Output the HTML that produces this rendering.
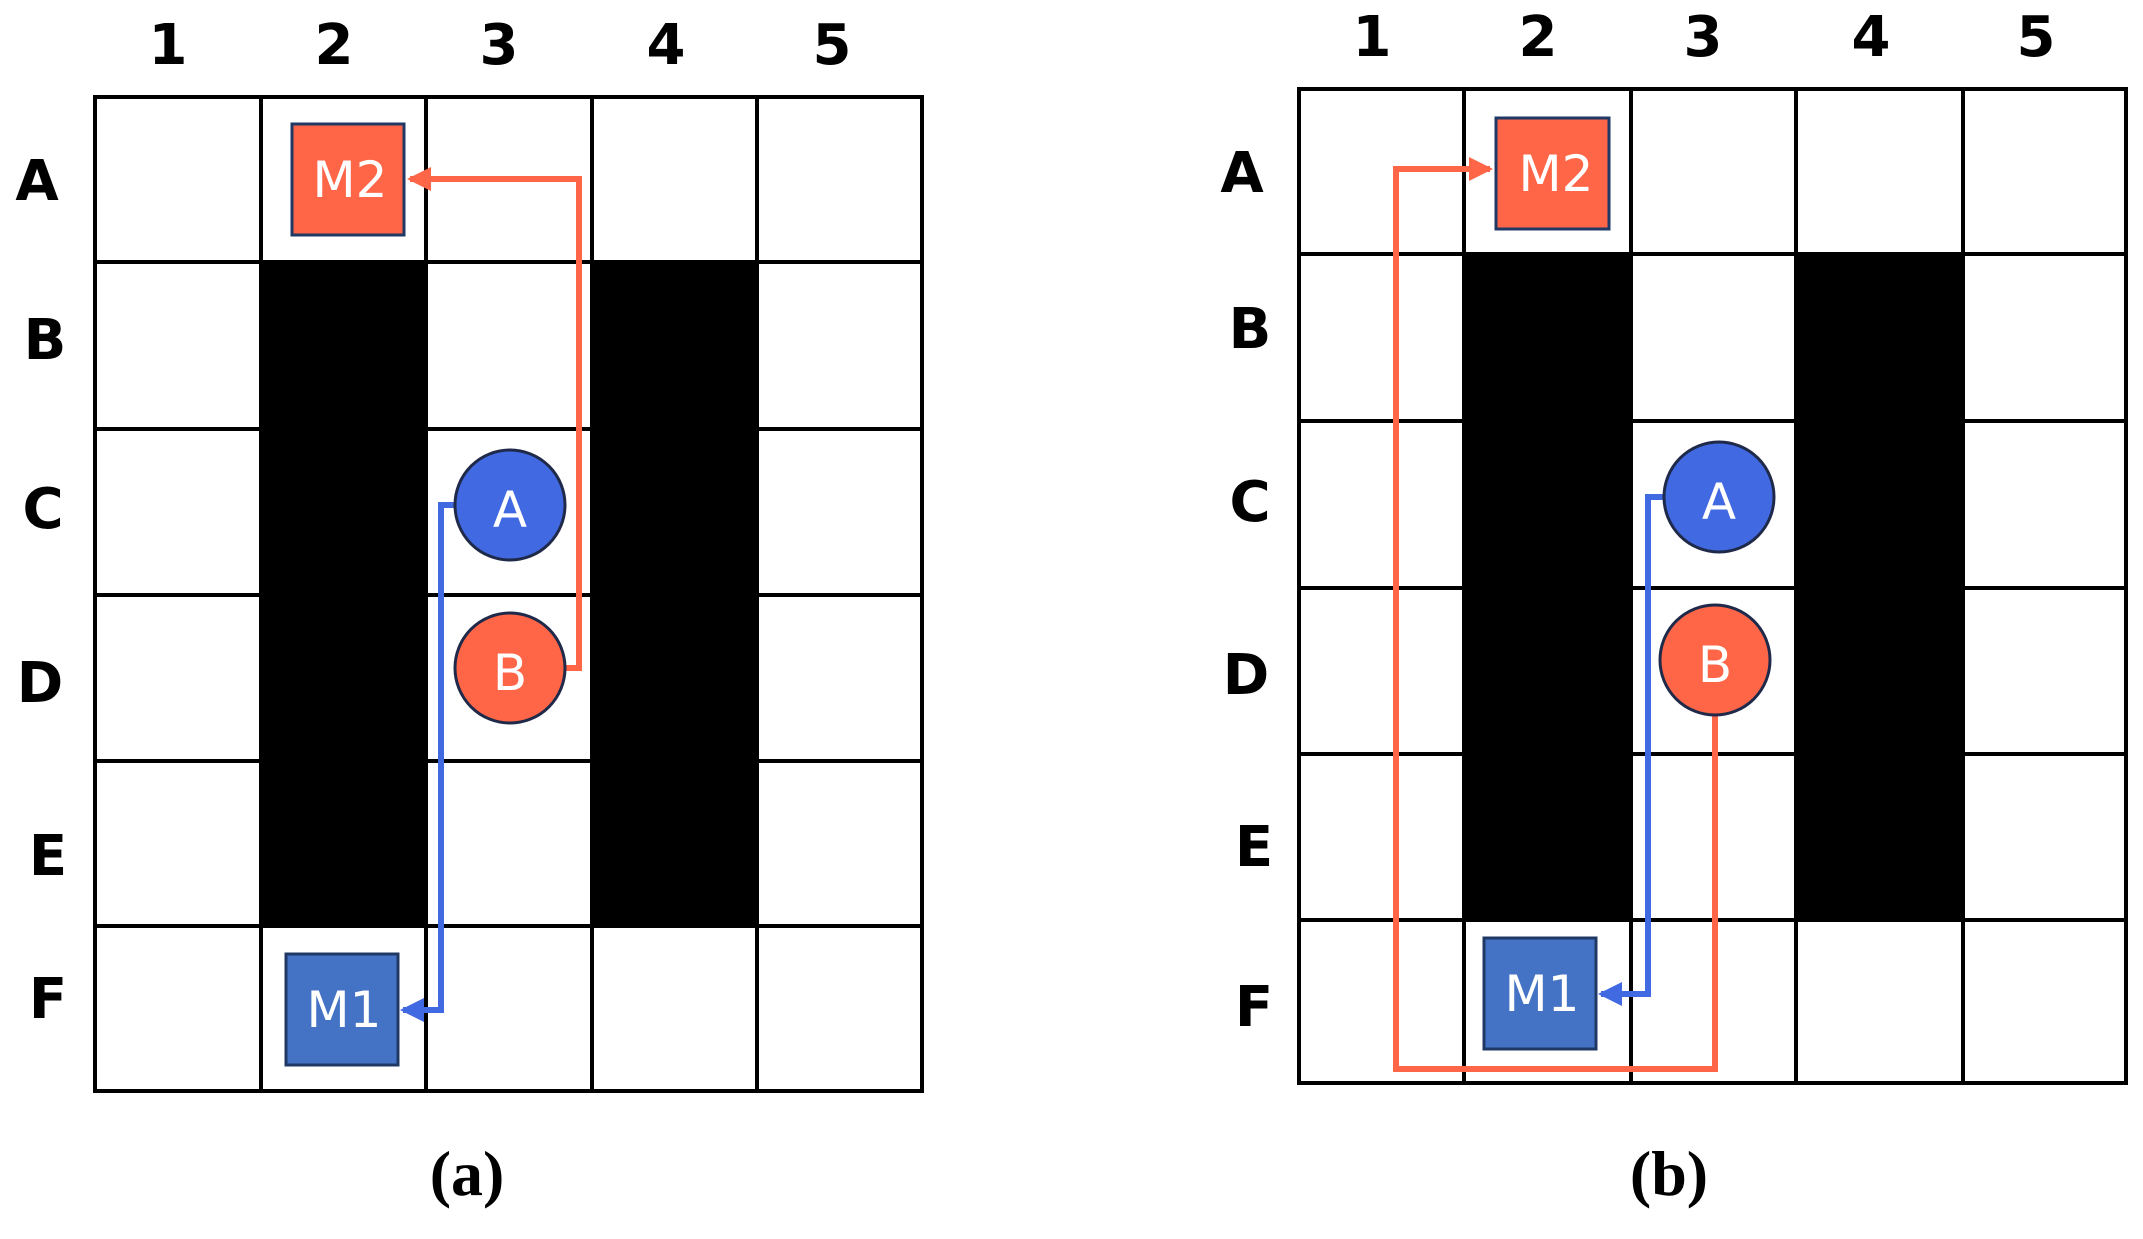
<!DOCTYPE html>
<html><head><meta charset="utf-8"><style>
html,body{margin:0;padding:0;background:#fff;width:2143px;height:1239px;overflow:hidden}
svg{display:block}
.lab{font-family:"DejaVu Sans","Liberation Sans",sans-serif;font-weight:bold;font-size:56px;fill:#000}
.nd{font-family:"DejaVu Sans","Liberation Sans",sans-serif;font-size:50px;fill:#fff}
.cap{font-family:"Liberation Serif",serif;font-weight:bold;font-size:64px;fill:#000}
</style></head><body>
<svg width="2143" height="1239" viewBox="0 0 2143 1239" xmlns="http://www.w3.org/2000/svg">
<defs>
<marker id="ar" markerWidth="4" markerHeight="4" refX="3.5" refY="2" orient="auto" markerUnits="strokeWidth"><path d="M0,0 L4,2 L0,4 z" fill="#FF6647"/></marker>
<marker id="ab" markerWidth="4" markerHeight="4" refX="3.5" refY="2" orient="auto" markerUnits="strokeWidth"><path d="M0,0 L4,2 L0,4 z" fill="#4169E1"/></marker>
</defs>
<g>
<rect x="261" y="262" width="165" height="664" fill="#000"/>
<rect x="592" y="262" width="165" height="664" fill="#000"/>
<g stroke="#000" stroke-width="4" fill="none">
<rect x="95" y="97" width="827" height="994"/>
<path d="M261,97V1091M426,97V1091M592,97V1091M757,97V1091M95,262H922M95,429H922M95,595H922M95,761H922M95,926H922"/>
</g>
<g class="lab" text-anchor="middle">
<text x="168" y="64">1</text><text x="334" y="64">2</text><text x="499" y="64">3</text><text x="666" y="64">4</text><text x="832" y="64">5</text>
<text x="37" y="200">A</text><text x="45" y="359">B</text><text x="43" y="528">C</text><text x="40" y="702">D</text><text x="48" y="875">E</text><text x="48" y="1018">F</text>
</g>
<polyline points="510,668 579,668 579,179 410,179" fill="none" stroke="#FF6647" stroke-width="6" marker-end="url(#ar)"/>
<polyline points="455,505 441,505 441,1010 403,1010" fill="none" stroke="#4169E1" stroke-width="6" marker-end="url(#ab)"/>
<rect x="292" y="124" width="112" height="111" fill="#FF6647" stroke="#1F3864" stroke-width="3"/>
<text class="nd" x="350" y="197" text-anchor="middle">M2</text>
<rect x="286" y="954" width="112" height="111" fill="#4472C4" stroke="#1F3864" stroke-width="3"/>
<text class="nd" x="344" y="1027" text-anchor="middle">M1</text>
<circle cx="510" cy="505" r="55" fill="#4169E1" stroke="#1F2A4A" stroke-width="3"/>
<text class="nd" x="510" y="527" text-anchor="middle" font-size="64">A</text>
<circle cx="510" cy="668" r="55" fill="#FF6647" stroke="#1F2A4A" stroke-width="3"/>
<text class="nd" x="510" y="690" text-anchor="middle" font-size="64">B</text>
<text class="cap" x="467" y="1195" text-anchor="middle">(a)</text>
</g>
<g>
<rect x="1464" y="254" width="167" height="666" fill="#000"/>
<rect x="1796" y="254" width="167" height="666" fill="#000"/>
<g stroke="#000" stroke-width="4" fill="none">
<rect x="1299" y="89" width="827" height="994"/>
<path d="M1464,89V1083M1631,89V1083M1796,89V1083M1963,89V1083M1299,254H2126M1299,421H2126M1299,588H2126M1299,754H2126M1299,920H2126"/>
</g>
<g class="lab" text-anchor="middle">
<text x="1372" y="56">1</text><text x="1538" y="56">2</text><text x="1703" y="56">3</text><text x="1871" y="56">4</text><text x="2036" y="56">5</text>
<text x="1242" y="192">A</text><text x="1250" y="348">B</text><text x="1250" y="521">C</text><text x="1246" y="694">D</text><text x="1254" y="866">E</text><text x="1254" y="1026">F</text>
</g>
<polyline points="1715,715 1715,1069 1396,1069 1396,169 1490,169" fill="none" stroke="#FF6647" stroke-width="6" marker-end="url(#ar)"/>
<polyline points="1664,497 1648,497 1648,994 1601,994" fill="none" stroke="#4169E1" stroke-width="6" marker-end="url(#ab)"/>
<rect x="1496" y="118" width="113" height="111" fill="#FF6647" stroke="#1F3864" stroke-width="3"/>
<text class="nd" x="1556" y="191" text-anchor="middle">M2</text>
<rect x="1484" y="938" width="112" height="111" fill="#4472C4" stroke="#1F3864" stroke-width="3"/>
<text class="nd" x="1542" y="1011" text-anchor="middle">M1</text>
<circle cx="1719" cy="497" r="55" fill="#4169E1" stroke="#1F2A4A" stroke-width="3"/>
<text class="nd" x="1719" y="519" text-anchor="middle" font-size="64">A</text>
<circle cx="1715" cy="660" r="55" fill="#FF6647" stroke="#1F2A4A" stroke-width="3"/>
<text class="nd" x="1715" y="682" text-anchor="middle" font-size="64">B</text>
<text class="cap" x="1669" y="1195" text-anchor="middle">(b)</text>
</g>
</svg>
</body></html>
